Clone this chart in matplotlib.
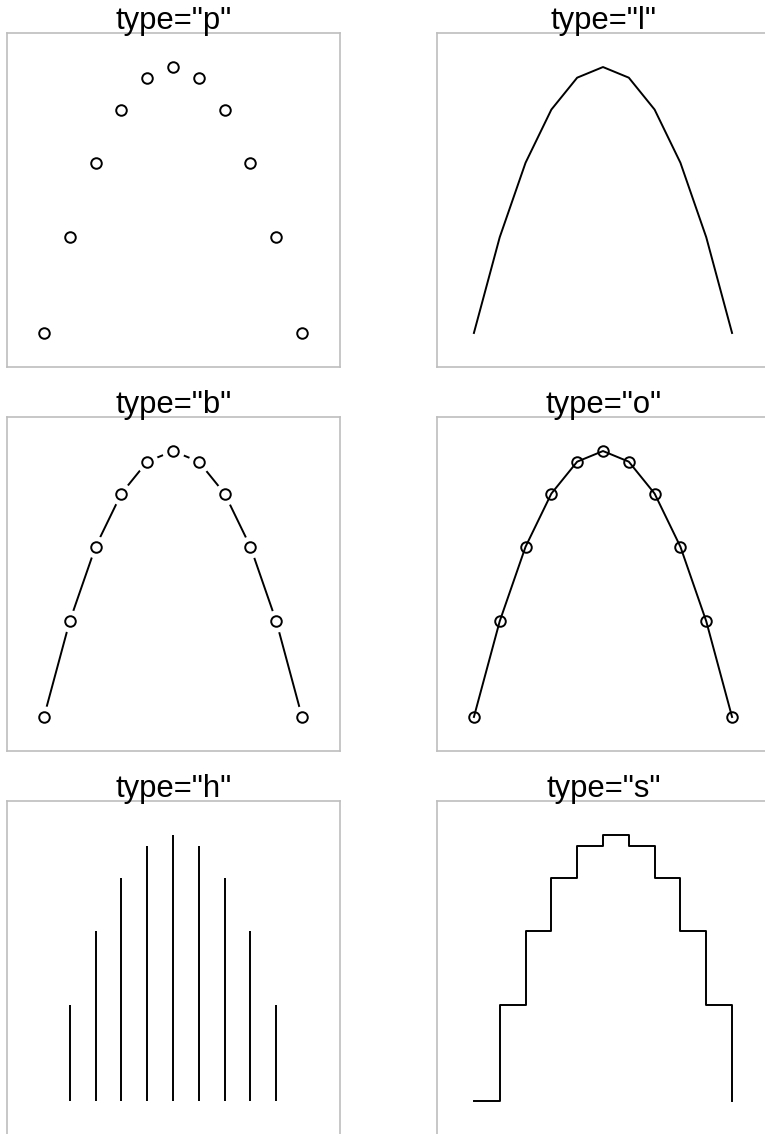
import matplotlib
matplotlib.use("Agg")
import matplotlib.pyplot as plt
import numpy as np

plt.rcParams['font.family'] = ['Liberation Sans', 'DejaVu Sans']

x = [-5, -4, -3, -2, -1, 0, 1, 2, 3, 4, 5]
y = [0, 9, 16, 21, 24, 25, 24, 21, 16, 9, 0]
types = ['p', 'l', 'b', 'o', 'h', 's']

W, H = 765, 1134
fig = plt.figure(figsize=(W / 100, H / 100), dpi=100)

col_x = [7, 437]
row_top = [33, 417, 801]
aw, ah = 333, 334

LW = 1.4
MS = 7.6

for i, t in enumerate(types):
    r, c = divmod(i, 2)
    left = col_x[c] / W
    bottom = (H - row_top[r] - ah) / H
    ax = fig.add_axes([left, bottom, aw / W, ah / H])
    ax.set_xlim(-6.43, 6.47)
    ax.set_ylim(-3.2, 28.2)
    ax.set_xticks([])
    ax.set_yticks([])
    for s in ax.spines.values():
        s.set_color('#bebebe')
        s.set_linewidth(1.2)
    ax.text(0.5, 1 + 4 / ah, f'type="{t}"', transform=ax.transAxes,
            ha='center', va='baseline', fontsize=22.3, color='black',
            clip_on=False, zorder=10)
    if t == 'p':
        ax.plot(x, y, 'o', ms=MS, mfc='none', mec='black', mew=LW)
    elif t == 'l':
        ax.plot(x, y, '-', color='black', lw=LW)
    elif t == 'b':
        ax.plot(x, y, '-', color='black', lw=LW, zorder=1)
        ax.plot(x, y, 'o', ms=16, mfc='white', mec='white', mew=0, zorder=2)
        ax.plot(x, y, 'o', ms=MS, mfc='none', mec='black', mew=LW, zorder=3)
    elif t == 'o':
        ax.plot(x, y, '-', color='black', lw=LW)
        ax.plot(x, y, 'o', ms=MS, mfc='none', mec='black', mew=LW)
    elif t == 'h':
        ax.vlines(x, 0, y, color='black', lw=LW)
    elif t == 's':
        ax.plot(x, y, '-', color='black', lw=LW, drawstyle='steps-post')

fig.savefig('out.png', dpi=100)
